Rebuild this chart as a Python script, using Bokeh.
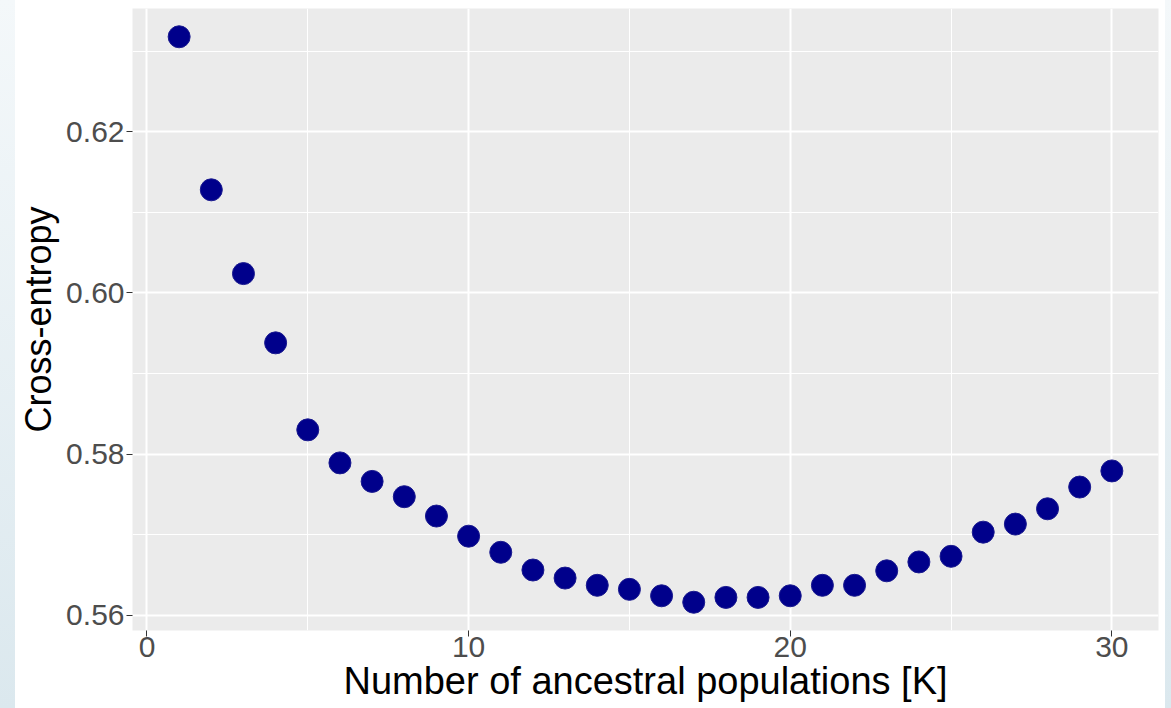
from bokeh.plotting import figure
from bokeh.models import Range1d, FixedTicker, Div
from bokeh.layouts import row
from bokeh.embed import file_html
from bokeh.resources import INLINE

# data
k_values = list(range(1, 31))
cross_entropy = [0.6318, 0.6128, 0.6024, 0.5938, 0.5830, 0.5789, 0.5766, 0.5747,
                 0.5723, 0.5698, 0.5678, 0.5656, 0.5646, 0.5637, 0.5632, 0.5624,
                 0.5616, 0.5622, 0.5622, 0.5624, 0.5637, 0.5637, 0.5655, 0.5666,
                 0.5673, 0.5703, 0.5713, 0.5732, 0.5759, 0.5779]
x_ticks = [0, 10, 20, 30]
x_minor = [5, 15, 25]
y_ticks = [0.56, 0.58, 0.60, 0.62]
y_minor = [0.57, 0.59, 0.61, 0.63]
y_tick_labels = {0.56: "0.56", 0.58: "0.58", 0.60: "0.60", 0.62: "0.62"}

def expand(lo, hi, f=0.05):
    d = (hi - lo) * f
    return lo - d, hi + d

x0, x1 = expand(min(k_values), max(k_values))
y0, y1 = expand(min(cross_entropy), max(cross_entropy))

p = figure(width=1150, height=708, output_backend="svg", toolbar_location=None,
           x_range=Range1d(x0, x1), y_range=Range1d(y0, y1),
           min_border_left=116, min_border_right=7, min_border_top=8,
           min_border_bottom=78, margin=0)
p.background_fill_color = "#EBEBEB"
p.border_fill_color = "white"
p.outline_line_color = None

p.xaxis.ticker = FixedTicker(ticks=x_ticks, minor_ticks=x_minor)
p.yaxis.ticker = FixedTicker(ticks=y_ticks, minor_ticks=y_minor)
p.yaxis.major_label_overrides = y_tick_labels

for g in (p.xgrid[0], p.ygrid[0]):
    g.grid_line_color = "white"
    g.grid_line_width = 2
    g.minor_grid_line_color = "white"
    g.minor_grid_line_width = 1

for ax in (p.xaxis[0], p.yaxis[0]):
    ax.axis_line_color = None
    ax.major_tick_line_color = "#333333"
    ax.major_tick_line_width = 1
    ax.major_tick_out = 6
    ax.major_tick_in = 0
    ax.minor_tick_out = 0
    ax.minor_tick_in = 0
    ax.major_label_text_font = "Liberation Sans"
    ax.major_label_text_font_size = "30px"
    ax.major_label_text_color = "#4D4D4D"
    ax.axis_label_text_font = "Liberation Sans"
    ax.axis_label_text_font_style = "normal"
    ax.axis_label_text_color = "black"

p.xaxis.axis_label_text_font_size = "38px"
p.yaxis.axis_label_text_font_size = "36px"
p.xaxis.axis_label = "Number of ancestral populations [K]"
p.yaxis.axis_label = "Cross-entropy"
p.xaxis.major_label_standoff = 0
p.yaxis.major_label_standoff = 2
p.xaxis.axis_label_standoff = 0
p.yaxis.axis_label_standoff = 4

p.scatter(k_values, cross_entropy, size=22, fill_color="#00008B",
          line_color="#1a1a8f", line_width=1)

grad = "linear-gradient(#f4f8fa, #dbe8ee)"
left_strip = Div(width=15, height=708, margin=0, styles={"background": grad})
right_strip = Div(width=6, height=708, margin=0, styles={"background": grad})
layout = row(left_strip, p, right_strip, spacing=0, margin=0)

open("out.html", "w").write(file_html(layout, INLINE))
